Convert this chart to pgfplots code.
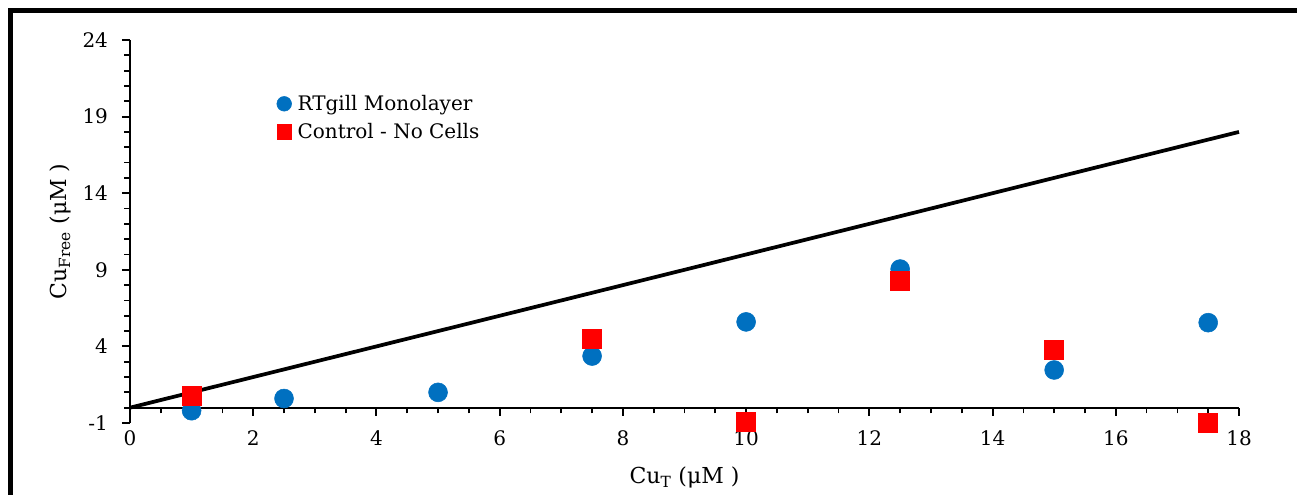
\documentclass[border=0pt]{standalone}
\usepackage{pgfplots}
\pgfplotsset{compat=1.18}
\usepackage{fontspec}
\setmainfont{DejaVu Serif}
\definecolor{cellblue}{HTML}{0070C0}
\definecolor{ctrlred}{HTML}{FF0000}
\newcommand{\ticksize}{\fontsize{15}{17}\selectfont}
\newcommand{\labsize}{\fontsize{16.5}{19}\selectfont}
\begin{document}
\begin{tikzpicture}
\useasboundingbox (0,0) rectangle (972.75pt,370.5pt);
% outer frame (left and top edges)
\draw[line width=3.75pt, line cap=rect] (7.9pt,-5pt) -- (7.9pt,362.6pt) -- (980pt,362.6pt);
\begin{axis}[
  at={(97.5pt,53.25pt)}, anchor=south west,
  scale only axis, width=831.75pt, height=287.25pt,
  xmin=0, xmax=18, ymin=-1, ymax=24,
  axis x line=middle, axis y line=left,
  hide obscured x ticks=false,
  axis line style={-, line width=1.5pt, black},
  xtick={0,2,...,18}, minor x tick num=3,
  ytick={-1,4,9,14,19,24}, yticklabels={-1,4,9,14,19,24}, minor y tick num=4,
  xticklabels={0,2,4,6,8,10,12,14,16,18},
  tick align=outside,
  major tick length=6pt, minor tick length=4.2pt,
  every tick/.style={line width=1.5pt, black},
  every minor tick/.style={line width=1.3pt, black},
  x tick label style={font=\ticksize, yshift=-7.5pt},
  y tick label style={font=\ticksize, xshift=-7pt},
  every axis x label/.style={at={(axis description cs:0.5,0)}, anchor=center, yshift=-41pt, font=\labsize},
  every axis y label/.style={at={(axis description cs:0,0.5)}, xshift=-52pt, anchor=center, rotate=90, font=\labsize},
  xlabel={Cu\textsubscript{T} (μM )},
  ylabel={Cu\textsubscript{Free} (μM )},
  legend style={at={(axis description cs:0.131,0.867)}, anchor=north west, draw=none, fill=none,
    font=\ticksize, row sep=4pt, inner sep=1pt,
    /tikz/every odd column/.append style={column sep=2.5pt}},
  legend cell align=left,
  clip=false,
]
\addplot[only marks, mark=*, mark size=7.1pt, color=cellblue, mark options={draw=cellblue, fill=cellblue},
  legend image code/.code={\draw[mark size=5.5pt, mark=*, mark options={draw=cellblue, fill=cellblue}] plot coordinates {(0.2cm,0cm)};}]
  coordinates {(1,-0.2) (2.5,0.6) (5,1.0) (7.5,3.37) (10,5.6) (12.5,9.05) (15,2.46) (17.5,5.55)};
\addlegendentry{RTgill Monolayer}
\addplot[only marks, mark=square*, mark size=7.1pt, color=ctrlred, mark options={draw=ctrlred, fill=ctrlred},
  legend image code/.code={\draw[mark size=5.5pt, mark=square*, mark options={draw=ctrlred, fill=ctrlred}] plot coordinates {(0.2cm,0cm)};}]
  coordinates {(1,0.76) (7.5,4.5) (10,-0.94) (12.5,8.27) (15,3.81) (17.5,-0.98)};
\addlegendentry{Control - No Cells}
\addplot[black, line width=2.8pt, forget plot] coordinates {(0,0) (18,18)};
\end{axis}
\end{tikzpicture}
\end{document}
